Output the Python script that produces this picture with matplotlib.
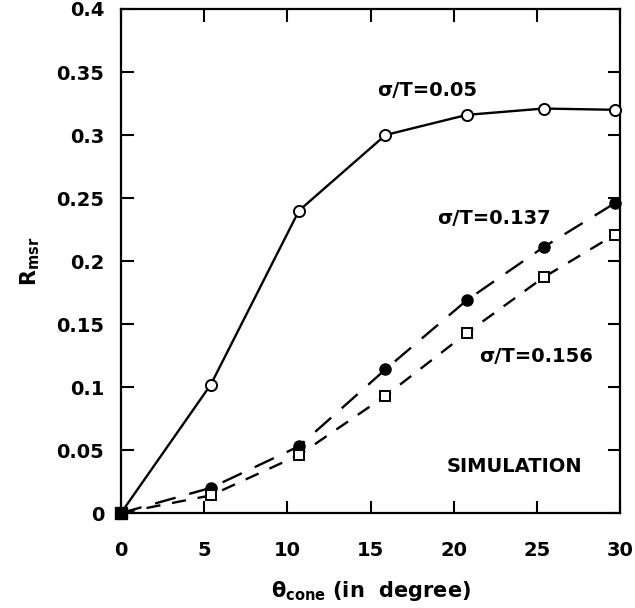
import matplotlib
matplotlib.use('Agg')
import matplotlib.pyplot as plt

# cone angle (degree)
theta = [0, 5.4, 10.7, 15.9, 20.8, 25.4, 29.7]

# R_msr for the three roughness values
r_005 = [0, 0.102, 0.240, 0.300, 0.316, 0.321, 0.320]
r_0137 = [0, 0.020, 0.053, 0.114, 0.169, 0.211, 0.246]
r_0156 = [0, 0.014, 0.046, 0.093, 0.143, 0.187, 0.221]

x_ticks = [0, 5, 10, 15, 20, 25, 30]
y_ticks = [0, 0.05, 0.1, 0.15, 0.2, 0.25, 0.3, 0.35, 0.4]
y_tick_labels = ['0', '0.05', '0.1', '0.15', '0.2', '0.25', '0.3', '0.35', '0.4']

plt.rcParams['font.family'] = 'DejaVu Sans'
plt.rcParams['font.weight'] = 'bold'
plt.rcParams['mathtext.default'] = 'regular'

fig = plt.figure(figsize=(6.35, 6.08), dpi=100)
ax = fig.add_axes([0.1906, 0.1562, 0.7858, 0.8290])

# solid line with open circles
ax.plot(theta, r_005, color='black', lw=1.7, marker='o', ms=8,
        mfc='white', mec='black', mew=1.4, clip_on=False, zorder=3)
# long dashes with filled circles
ax.plot(theta, r_0137, color='black', lw=1.7, dashes=(9, 6), marker='o', ms=8,
        mfc='black', mec='black', clip_on=False, zorder=3)
# short dashes with open squares
ax.plot(theta, r_0156, color='black', lw=1.7, dashes=(6, 5), marker='s', ms=7,
        mfc='white', mec='black', mew=1.4, clip_on=False, zorder=3)
# origin point
ax.plot([theta[0]], [r_005[0]], marker='s', ms=9, color='black',
        clip_on=False, zorder=4)

ax.text(15.4, 0.335, 'σ/T=0.05', fontsize=14, fontweight='bold', va='center')
ax.text(19.0, 0.234, 'σ/T=0.137', fontsize=14, fontweight='bold', va='center')
ax.text(21.5, 0.124, 'σ/T=0.156', fontsize=14, fontweight='bold', va='center')
ax.text(19.6, 0.037, 'SIMULATION', fontsize=14, fontweight='bold', va='center')

ax.set_xlim(0, 30)
ax.set_ylim(0, 0.4)
ax.set_xticks(x_ticks)
ax.set_yticks(y_ticks)
ax.set_yticklabels(y_tick_labels)
ax.tick_params(direction='in', length=9, width=1.5, top=True, right=True,
               labelsize=14)
ax.tick_params(axis='x', pad=20)
ax.tick_params(axis='y', pad=12)
for lab in ax.get_xticklabels() + ax.get_yticklabels():
    lab.set_fontweight('bold')
for s in ax.spines.values():
    s.set_linewidth(1.6)

ax.set_xlabel('θ$_{cone}$ (in  degree)', fontsize=15, fontweight='bold', labelpad=14)
ax.set_ylabel('R$_{msr}$', fontsize=15, fontweight='bold', labelpad=10)

fig.savefig('out.png', dpi=100)
